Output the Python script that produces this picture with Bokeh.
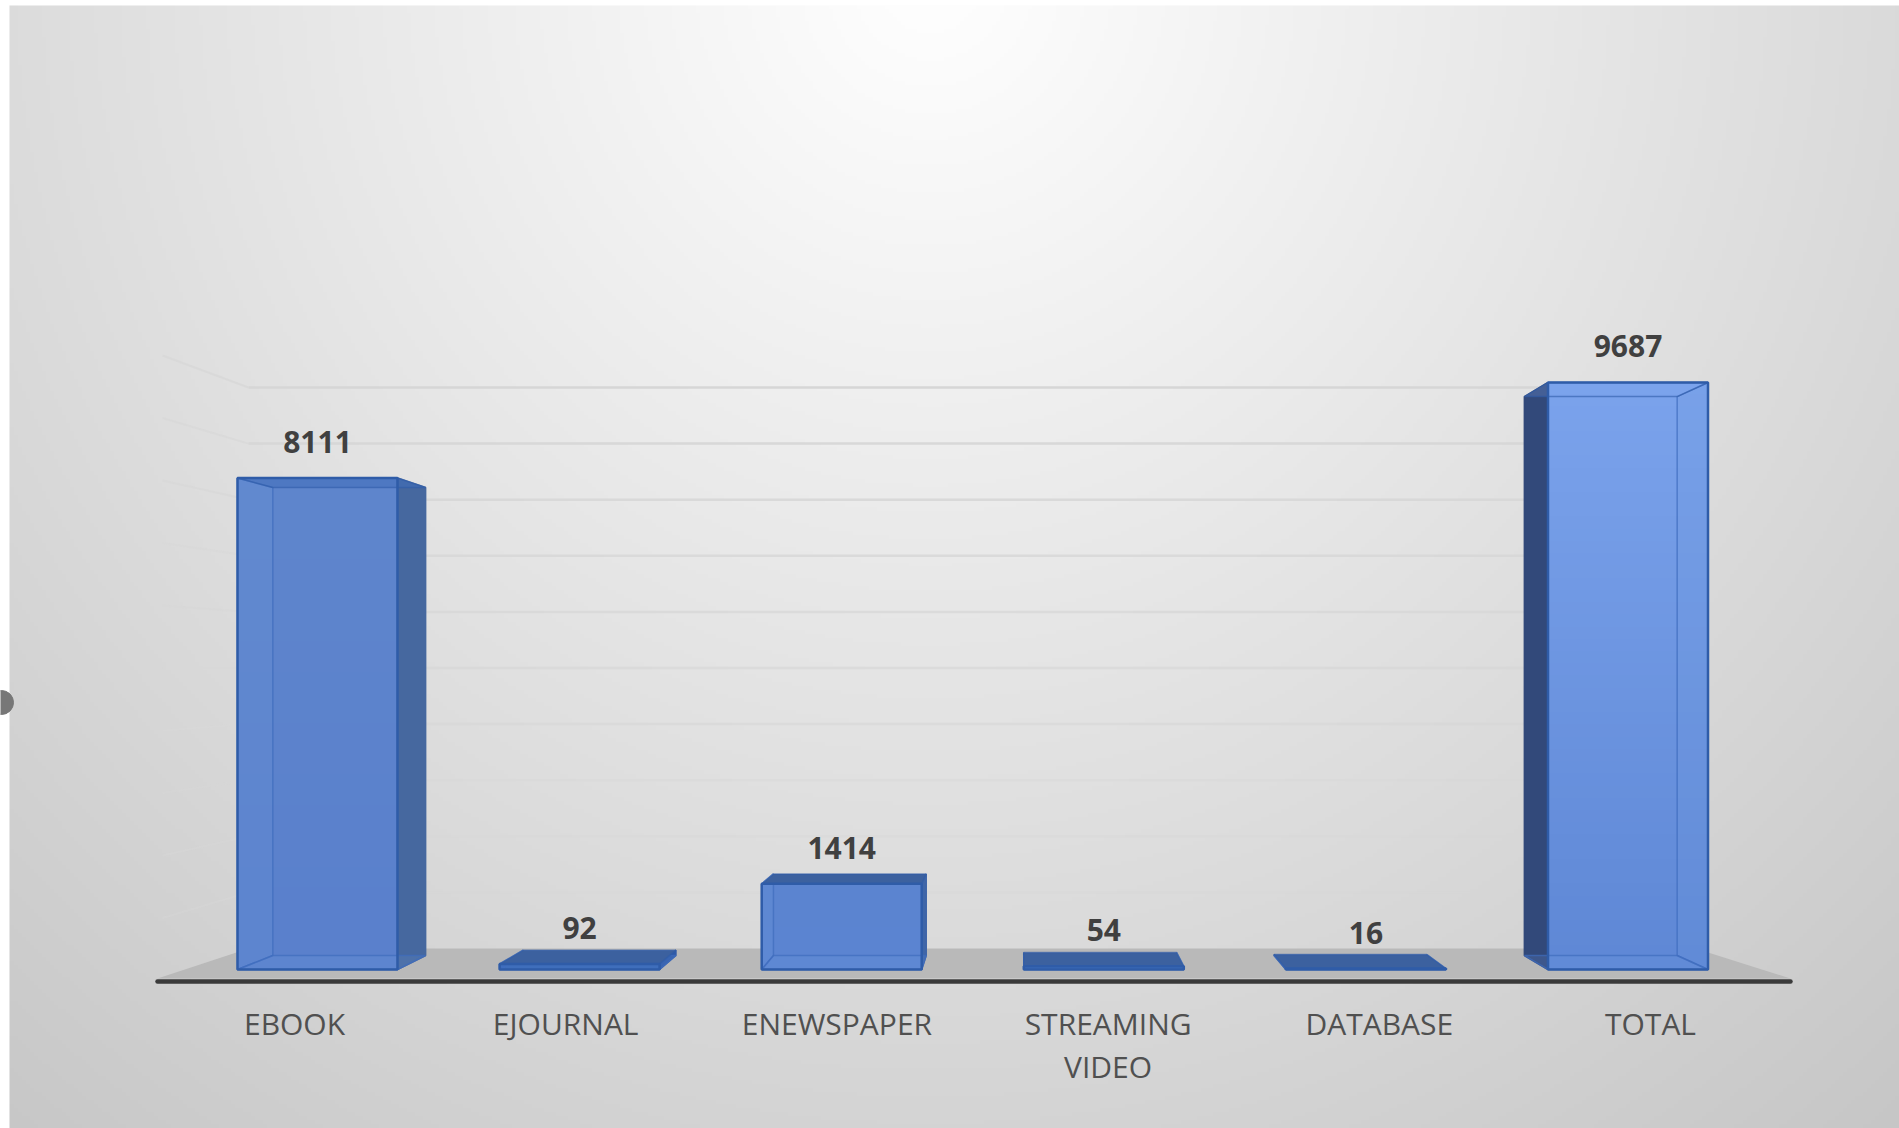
import numpy as np
from bokeh.embed import file_html
from bokeh.resources import INLINE
from bokeh.plotting import figure
from bokeh.models import Range1d
from bokeh.core.properties import value

categories = ["EBOOK", "EJOURNAL", "ENEWSPAPER", "STREAMING\nVIDEO", "DATABASE", "TOTAL"]
values = [8111, 92, 1414, 54, 16, 9687]
grid_values = [1000, 2000, 3000, 4000, 5000, 6000, 7000, 8000, 9000, 10000]

front_top = ["#5f86cd", "#3564b4", "#5c85d0", "#3362b2", "#3362b2", "#7ba3ec"]
front_bottom = ["#5a80cc", "#3564b4", "#5b84d2", "#3362b2", "#3362b2", "#5f88d6"]
side_color = ["#46689f", "#2f5aa8", "#3f66a8", "#3c619f", "#3c619f", "#32497a"]
top_color = ["#3f6dba", "#3c619f", "#3c619f", "#3c619f", "#3c619f", "#7ba3ec"]
top_alpha = [0.55, 1.0, 1.0, 1.0, 1.0, 0.25]
edge = "#2f5ca8"

W, H = 1899, 1128
LEFT, TOP = 0, 0
BASE_Y, S = 969.0, 0.0606  # front plane of the bars: pixels per unit
X0, DX = 317.0, 262.1      # bar centres
LX0, LDX = 294.0, 271.2    # label centres
BAR_W = 160 / DX
VC, K = (1022 - X0) / DX, 0.955  # vanishing column and depth shrink

def ypx(px):
    return (BASE_Y - px) / S

def xpx(px):
    return (px - X0) / DX

def back_x(x):
    return VC + (x - VC) * K

def back_y(v):
    return ypx(955 - 0.0577 * v)

p = figure(width=W, height=H, toolbar_location=None, output_backend="svg", min_border=0,
           x_range=Range1d(xpx(LEFT), xpx(LEFT + W)),
           y_range=Range1d(ypx(TOP + H), ypx(TOP)))
p.outline_line_color = None
p.grid.visible = False
p.axis.visible = False
p.background_fill_color = "#ffffff"
p.extra_x_ranges["labels"] = Range1d((LEFT - LX0) / LDX, (LEFT + W - LX0) / LDX)

# background (starts just inside the white strips at the left and top)
IL, IT = 9, 5
gh, gw = 282, 471
gy, gx = np.mgrid[0:gh, 0:gw]
px_x = IL + (gx + .5) / gw * (W - IL)
px_y = H - (gy + .5) / gh * (H - IT)
t = np.sqrt(((px_x - 930) / 1150) ** 2 + ((px_y + 20) / 1170) ** 2)
g = np.clip(255 - 44 * t, 0, 255).astype(np.uint32)
img = (255 << 24) | (g << 16) | (g << 8) | g
p.image_rgba(image=[img], x=[xpx(IL)], y=[ypx(H)], dw=[(W - IL) / DX], dh=[(H - IT) / S])

# small mark on the left edge
p.scatter([xpx(1)], [ypx(702)], size=24, color="#777777")

# wall
for v in grid_values:
    a = 0.25 + 0.75 * v / 10000
    p.line([xpx(162), xpx(248)], [ypx(980 - 0.0625 * v), ypx(948 - 0.0561 * v)],
           line_color="#d8d8d8", line_width=2, line_alpha=a * 0.9)
    p.line([xpx(248), xpx(1695)], [ypx(948 - 0.0561 * v)] * 2,
           line_color="#d6d6d6", line_width=2.5, line_alpha=a)

# floor
p.patch([xpx(157), xpx(248), xpx(1695), xpx(1790)],
        [ypx(978), ypx(948), ypx(948), ypx(978)], fill_color="#b9b9b9", line_color=None)
p.line([xpx(157), xpx(1790)], [ypx(981)] * 2, line_color="#3a3a3a", line_width=4.5, line_cap="round")

# bars
for i, v in enumerate(values):
    fl, fr = i - BAR_W / 2, i + BAR_W / 2
    bl, br = back_x(fl), back_x(fr)
    bt, bb = back_y(v), back_y(0)
    c0 = np.array([int(front_bottom[i][k:k + 2], 16) for k in (1, 3, 5)], dtype=float)
    c1 = np.array([int(front_top[i][k:k + 2], 16) for k in (1, 3, 5)], dtype=float)
    rows = np.linspace(0, 1, 48)[:, None]
    col = (c0 * (1 - rows) + c1 * rows).astype(np.uint32)
    bar_img = (255 << 24) | (col[:, 2] << 16) | (col[:, 1] << 8) | col[:, 0]
    p.image_rgba(image=[bar_img.reshape(48, 1)], x=[fl], y=[0], dw=[BAR_W], dh=[v])

    faint = dict(fill_color="#6f9ae0", fill_alpha=0.18, line_color="#3f6cbd", line_width=1.5, line_alpha=0.7)
    dark = dict(fill_color=side_color[i], fill_alpha=1, line_color=side_color[i], line_width=1.5)
    p.patch([fl, bl, bl, fl], [v, bt, bb, 0], **(dark if bl < fl else faint))
    p.patch([fr, br, br, fr], [v, bt, bb, 0], **(dark if br > fr else faint))
    p.patch([fl, fr, br, bl], [0, 0, bb, bb], **faint)
    p.patch([fl, fr, br, bl], [v, v, bt, bt], fill_color=top_color[i], fill_alpha=top_alpha[i],
            line_color=edge, line_width=1.5, line_alpha=0.6)
    p.quad(left=[fl], right=[fr], bottom=[0], top=[v], fill_color=None, line_color=edge, line_width=2.5)

# value labels
xs = list(range(len(values)))
p.text(xs, values, text=[str(v) for v in values], text_align="center", text_baseline="middle",
       y_offset=-36, text_font=value("Open Sans"), text_font_style="bold",
       text_font_size="30px", text_color="#404040")

# category labels
p.text(xs, [ypx(1002)] * 6, text=categories, x_range_name="labels", text_align="center",
       text_baseline="top", text_font=value("Open Sans"), text_font_size="30px",
       text_color="#505050", text_line_height=1.05)

open("out.html", "w").write(file_html(p, INLINE))
